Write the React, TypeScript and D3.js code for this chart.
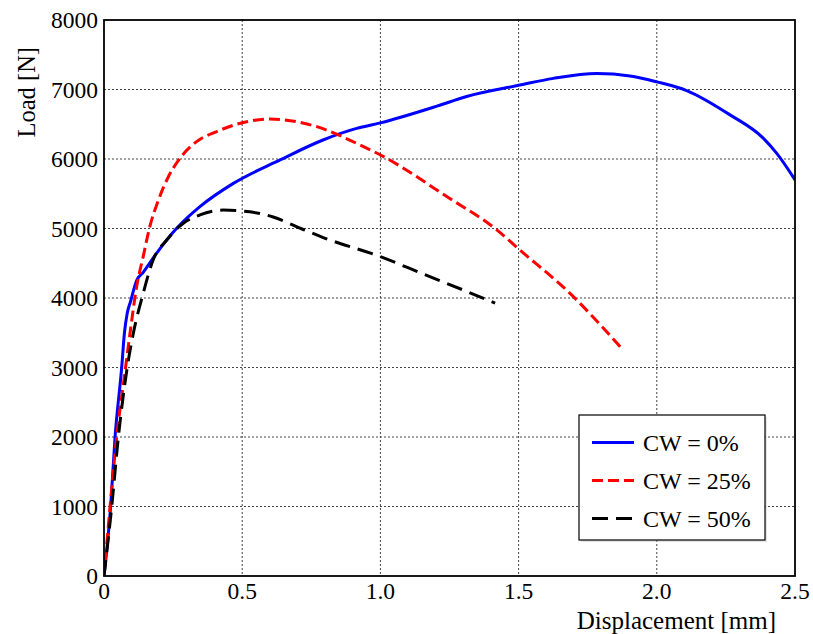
import React from "react";
import * as d3 from "d3";

const xTicks = [0, 0.5, 1.0, 1.5, 2.0, 2.5];
const xTickLabels = ["0", "0.5", "1.0", "1.5", "2.0", "2.5"];
const yTicks = [0, 1000, 2000, 3000, 4000, 5000, 6000, 7000, 8000];

const cw0Disp = [0, 0.024, 0.04, 0.064, 0.074, 0.084, 0.096, 0.118, 0.142, 0.19, 0.263, 0.347, 0.468, 0.637, 0.79, 0.914, 1.0, 1.204, 1.312, 1.5, 1.626, 1.783, 1.903, 2.0, 2.108, 2.265, 2.385, 2.434, 2.5];
const cw0Load = [0, 1000, 2000, 3000, 3500, 3780, 3950, 4250, 4370, 4643, 5003, 5314, 5649, 5986, 6270, 6440, 6520, 6760, 6900, 7060, 7160, 7230, 7195, 7110, 6985, 6635, 6300, 6080, 5700];

const cw25Disp = [0, 0.022, 0.046, 0.078, 0.094, 0.118, 0.142, 0.166, 0.197, 0.233, 0.275, 0.335, 0.408, 0.504, 0.6, 0.77, 0.914, 1.011, 1.24, 1.421, 1.505, 1.698, 1.807, 1.874];
const cw25Load = [0, 1000, 2000, 3000, 3490, 4160, 4600, 5030, 5410, 5745, 6010, 6250, 6395, 6525, 6575, 6465, 6225, 6035, 5460, 4980, 4690, 4020, 3565, 3270];

const cw50Disp = [0, 0.028, 0.052, 0.084, 0.106, 0.142, 0.178, 0.227, 0.287, 0.347, 0.432, 0.528, 0.612, 0.7, 0.793, 1.0, 1.155, 1.312, 1.415];
const cw50Load = [0, 1000, 2000, 3000, 3490, 4070, 4550, 4835, 5075, 5195, 5265, 5240, 5165, 5020, 4870, 4595, 4345, 4095, 3925];

const seriesNames = ["CW = 0%", "CW = 25%", "CW = 50%"];
const seriesColors = ["#0000ff", "#ff0000", "#000000"];
const seriesDash = ["none", "11,5", "16,8"];

const FONT = "'Liberation Serif', 'Times New Roman', serif";

export default function App() {
  const W = 813, H = 634;
  const left = 104, right = 795, top = 20, bottom = 576;
  const x = d3.scaleLinear().domain([0, 2.5]).range([left, right]);
  const y = d3.scaleLinear().domain([0, 8000]).range([bottom, top]);

  const line = d3
    .line<[number, number]>()
    .x((d) => x(d[0]))
    .y((d) => y(d[1]))
    .curve(d3.curveMonotoneX);

  const series = [
    d3.zip(cw0Disp, cw0Load) as [number, number][],
    d3.zip(cw25Disp, cw25Load) as [number, number][],
    d3.zip(cw50Disp, cw50Load) as [number, number][],
  ];

  const legX = 579, legY = 415, legW = 186, legH = 125;
  const rowY = [442.5, 480.5, 518.5];

  return (
    <svg width={W} height={H} style={{ position: "absolute", left: 0, top: 0, background: "#fff" }} fontFamily={FONT}>
      <defs>
        <clipPath id="plotclip">
          <rect x={left} y={top} width={right - left} height={bottom - top} />
        </clipPath>
      </defs>
      {xTicks.slice(1, -1).map((t) => (
        <line key={"gx" + t} x1={x(t)} x2={x(t)} y1={top} y2={bottom} stroke="#444" strokeWidth={1} strokeDasharray="2,2" />
      ))}
      {yTicks.slice(1, -1).map((t) => (
        <line key={"gy" + t} x1={left} x2={right} y1={y(t)} y2={y(t)} stroke="#444" strokeWidth={1} strokeDasharray="2,2" />
      ))}
      <g clipPath="url(#plotclip)">
        {series.map((s, i) => (
          <path key={i} d={line(s) || ""} fill="none" stroke={seriesColors[i]} strokeWidth={3}
            strokeDasharray={seriesDash[i] === "none" ? undefined : seriesDash[i]} strokeLinejoin="round" />
        ))}
      </g>
      <rect x={left} y={top} width={right - left} height={bottom - top} fill="none" stroke="#000" strokeWidth={1.8} />
      {yTicks.map((t) => (
        <text key={"yl" + t} x={98} y={y(t)} dy="0.35em" textAnchor="end" fontSize={23.5} fill="#000">{t}</text>
      ))}
      {xTicks.map((t, i) => (
        <text key={"xl" + t} x={x(t)} y={599} textAnchor="middle" fontSize={23.5} fill="#000">{xTickLabels[i]}</text>
      ))}
      <text x={776} y={629} textAnchor="end" fontSize={25} fill="#000">Displacement [mm]</text>
      <text transform="translate(35,47) rotate(-90)" textAnchor="end" fontSize={24.5} fill="#000">Load [N]</text>
      <rect x={legX + 2} y={legY + 2} width={legW} height={legH} fill="#bbb" opacity={0.4} />
      <rect x={legX} y={legY} width={legW} height={legH} fill="#fff" stroke="#000" strokeWidth={1.2} />
      {seriesNames.map((n, i) => (
        <g key={"lg" + i}>
          <line x1={592} x2={634} y1={rowY[i]} y2={rowY[i]} stroke={seriesColors[i]} strokeWidth={3}
            strokeDasharray={seriesDash[i] === "none" ? undefined : seriesDash[i]} />
          <text x={643} y={rowY[i]} dy="0.35em" fontSize={24} fill="#000" style={{ whiteSpace: "pre" }}>{n}</text>
        </g>
      ))}
    </svg>
  );
}
